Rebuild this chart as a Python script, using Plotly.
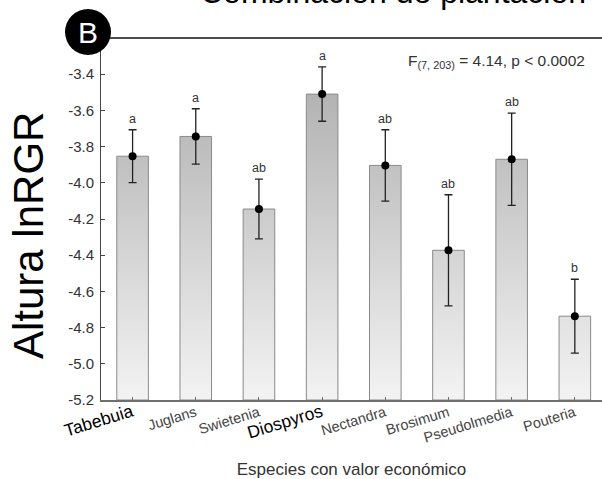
import plotly.graph_objects as go

# ---------------- data ----------------
species = ["Tabebuia", "Juglans", "Swietenia", "Diospyros",
           "Nectandra", "Brosimum", "Pseudolmedia", "Pouteria"]
means = [-3.853, -3.744, -4.145, -3.510, -3.904, -4.373, -3.870, -4.737]
errors = [0.146, 0.153, 0.165, 0.150, 0.197, 0.307, 0.255, 0.204]
letters = ["a", "a", "ab", "a", "ab", "ab", "ab", "b"]
y_tick_values = [-5.2, -5.0, -4.8, -4.6, -4.4, -4.2, -4.0, -3.8, -3.6, -3.4]
y_tick_labels = ["-5.2", "-5.0", "-4.8", "-4.6", "-4.4", "-4.2", "-4.0", "-3.8", "-3.6", "-3.4"]
y_range = [-5.2, -3.2]
title_text = "Combinación de plantación"
x_title = "Especies con valor económico"
y_title = "Altura lnRGR"
stat_text = "F<sub>(7, 203)</sub> = 4.14, p &lt; 0.0002"
panel_label = "B"

# ---------------- styling ----------------
FONT = "Arial, Liberation Sans, sans-serif"
big_labels = {"Tabebuia", "Diospyros"}
bar_half = 0.25
x_pos = list(range(len(species)))


def tick_label(name):
    if name in big_labels:
        return f'<span style="font-size:17.5px;color:#000000">{name}</span>'
    return f'<span style="font-size:14.5px;color:#444444">{name}</span>'


# bar outlines built from the data (base at the bottom of the axis)
bx, by = [], []
base = y_range[0]
for x, m in zip(x_pos, means):
    bx += [x - bar_half, x - bar_half, x + bar_half, x + bar_half, x - bar_half, None]
    by += [base, m, m, base, base, None]

fig = go.Figure()
fig.add_trace(go.Scatter(
    x=bx, y=by, mode="lines", fill="toself",
    line=dict(color="#8a8a8a", width=1),
    fillgradient=dict(type="vertical",
                      colorscale=[[0, "#f3f3f3"], [1, "#adadad"]],
                      start=-5.2, stop=-3.35),
    hoverinfo="skip", showlegend=False,
))
fig.add_trace(go.Scatter(
    x=x_pos, y=means, mode="markers",
    marker=dict(color="#000000", size=8),
    error_y=dict(type="data", array=errors, visible=True,
                 color="#222222", thickness=1.3, width=4),
    showlegend=False,
))

annotations = [
    dict(text=title_text, xref="paper", yref="paper", x=0.583, y=1,
         xanchor="center", yanchor="bottom", yshift=26, showarrow=False,
         font=dict(family=FONT, size=32, color="#000000")),
    dict(text=stat_text, xref="paper", yref="paper", x=0.970, y=0.935,
         xanchor="right", yanchor="middle", showarrow=False,
         font=dict(family=FONT, size=15.5, color="#333333")),
    dict(text=y_title, xref="paper", yref="paper", x=0, xshift=-73, y=0.453,
         xanchor="center", yanchor="middle", textangle=-90, showarrow=False,
         font=dict(family=FONT, size=42, color="#000000")),
    dict(text=panel_label, xref="paper", yref="paper", x=0, xshift=-13,
         y=1, yshift=6, xanchor="center", yanchor="middle", showarrow=False,
         font=dict(family=FONT, size=30, color="#ffffff")),
]
for x, m, e, lab in zip(x_pos, means, errors, letters):
    annotations.append(dict(
        text=lab, x=x, y=m + e, xref="x", yref="y",
        xanchor="center", yanchor="bottom", yshift=2, showarrow=False,
        font=dict(family=FONT, size=12.5, color="#333333")))

shapes = [
    dict(type="line", xref="paper", yref="paper", x0=0, x1=1, y0=1, y1=1,
         line=dict(color="#111111", width=1.5), layer="above"),
    dict(type="circle", xref="paper", yref="paper", xsizemode="pixel",
         ysizemode="pixel", xanchor=0, yanchor=1, x0=-36, x1=10, y0=-17, y1=29,
         fillcolor="#000000", line=dict(color="#000000", width=0), layer="above"),
]

fig.update_layout(
    width=602, height=479,
    margin=dict(l=101, r=0, t=38, b=79),
    paper_bgcolor="#ffffff", plot_bgcolor="#ffffff",
    font=dict(family=FONT, color="#333333"),
    annotations=annotations, shapes=shapes,
    showlegend=False,
)
fig.update_xaxes(
    range=[-0.5, 7.43], tickvals=x_pos,
    ticktext=[tick_label(s) for s in species], tickangle=-17,
    showline=True, linecolor="#6f6f6f", linewidth=1.5,
    ticks="inside", ticklen=3, tickcolor="#6f6f6f",
    showgrid=False, zeroline=False, automargin=False,
    title=dict(text=x_title, standoff=19,
               font=dict(family=FONT, size=17, color="#333333")),
)
fig.update_yaxes(
    range=y_range, tickvals=y_tick_values, ticktext=y_tick_labels,
    showline=True, linecolor="#444444", linewidth=1,
    ticks="inside", ticklen=4, tickcolor="#444444",
    tickfont=dict(family=FONT, size=15, color="#333333"),
    ticklabelstandoff=3,
    showgrid=False, zeroline=False, automargin=False,
)

fig.write_html("out.html",
               config={"displayModeBar": False},
               post_script="document.body.style.margin='0px';"
                           "document.body.style.overflow='hidden';")
